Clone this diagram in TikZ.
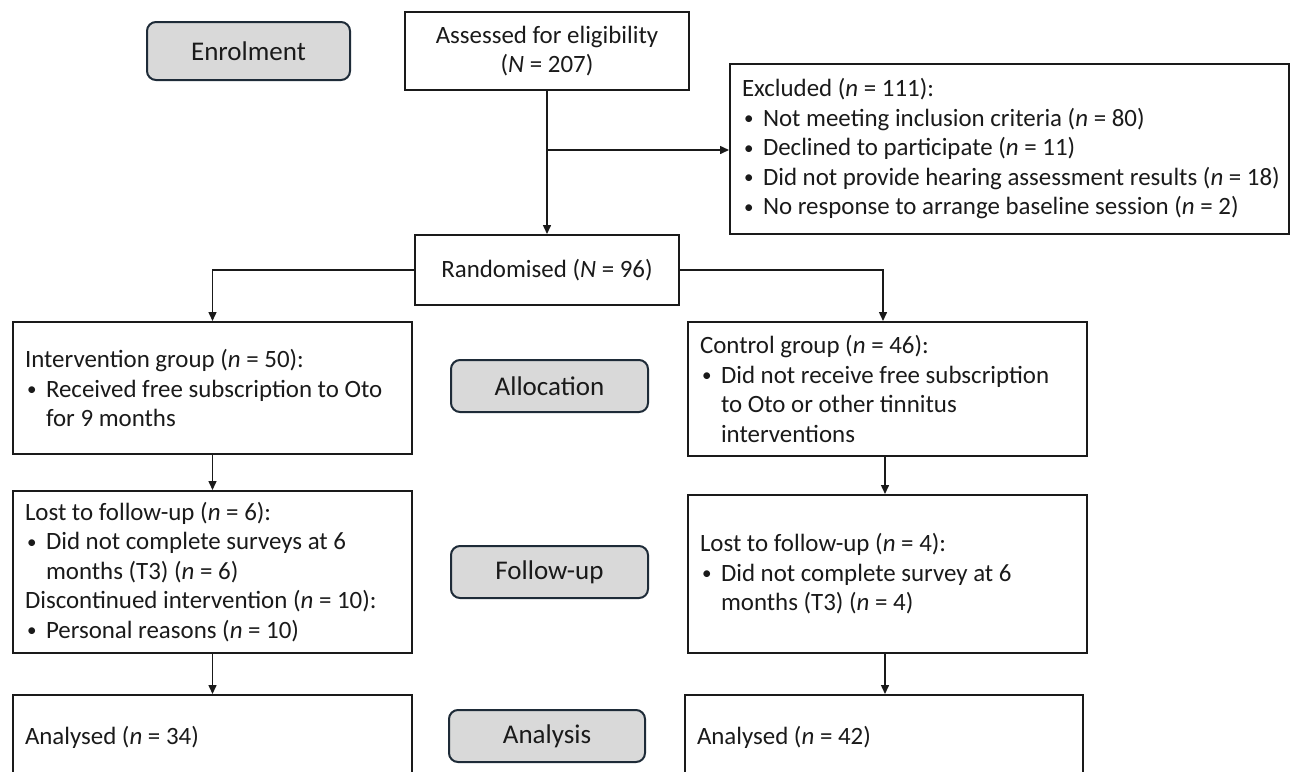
\documentclass[tikz,border=0pt]{standalone}
\usepackage{fontspec}
\setmainfont{Carlito}
\usetikzlibrary{arrows.meta}

\definecolor{stagefill}{HTML}{D9D9D9}
\definecolor{stageline}{HTML}{1E2B38}
\definecolor{ink}{HTML}{1A1A1A}

% natural interword spaces inside fixed-width nodes
\newcommand\plainspacing{\spaceskip=0pt \xspaceskip=0pt \raggedright}

% bulleted entry; continuation lines hang under the first word
\newcommand\bitem[1]{\par\hangindent=21pt\hangafter=1\noindent
  \makebox[21pt][l]{\hspace{2pt}\raisebox{1.5pt}{\fontsize{19}{19}\selectfont\textbullet}}%
  {\let\\\newline #1}\par}

\begin{document}
\begin{tikzpicture}[x=1pt,y=-1pt,
  every node/.style={font=\fontsize{24.9}{29.5}\selectfont, text=ink},
  box/.style={draw=ink, line width=2pt, inner xsep=12pt, inner ysep=0pt, fill=white},
  cbox/.style={box, align=center},
  lbox/.style={box, execute at begin node=\plainspacing},
  stage/.style={draw=stageline, fill=stagefill, line width=2pt, rounded corners=9pt,
                inner sep=0pt, font=\fontsize{27}{32}\selectfont},
  flow/.style={draw=ink, line width=1.5pt, -{Triangle[length=9pt,width=8pt]}}
]
\fill[white] (0,0) rectangle (1290,771);
\useasboundingbox (0,0) rectangle (1290,771);
\clip (0,0) rectangle (1290,771);

% stage labels
\node[stage, minimum width=203pt, minimum height=58pt] (enrol) at (248.5,51) {Enrolment};
\node[stage, minimum width=197pt, minimum height=52pt] (alloc) at (549.5,386) {Allocation};
\node[stage, minimum width=197pt, minimum height=52pt] (follow) at (549.5,572) {Follow-up};
\node[stage, minimum width=196pt, minimum height=52pt] (analysis) at (547,736) {Analysis};

% enrolment
\node[cbox, minimum width=284pt, minimum height=78pt] (assess) at (547,51)
  {Assessed for eligibility\\(\textit{N} = 207)};
\node[lbox, text width=534.5pt, minimum height=170pt] (excl) at (1009.25,149)
  {Excluded (\textit{n} = 111):
   \bitem{Not meeting inclusion criteria (\textit{n} = 80)}
   \bitem{Declined to participate (\textit{n} = 11)}
   \bitem{\mbox{Did not provide hearing assessment results (\textit{n} = 18)}}
   \bitem{No response to arrange baseline session (\textit{n} = 2)}};
\node[cbox, minimum width=264pt, minimum height=70pt] (rand) at (547,270)
  {Randomised (\textit{N} = 96)};

% allocation
\node[lbox, text width=375pt, minimum height=132pt] (interv) at (212.5,388)
  {Intervention group (\textit{n} = 50):
   \bitem{Received free subscription to Oto\\for 9 months}};
\node[lbox, text width=375pt, minimum height=134pt] (ctrl) at (887.5,389)
  {Control group (\textit{n} = 46):
   \bitem{Did not receive free subscription\\to Oto or other tinnitus\\interventions}};

% follow-up
\node[lbox, text width=375pt, minimum height=162pt] (lostL) at (212.5,572)
  {Lost to follow-up (\textit{n} = 6):
   \bitem{Did not complete surveys at 6\\months (T3) (\textit{n} = 6)}
   \noindent Discontinued intervention (\textit{n} = 10):
   \bitem{Personal reasons (\textit{n} = 10)}};
\node[lbox, text width=375pt, minimum height=158pt] (lostR) at (887.5,574)
  {Lost to follow-up (\textit{n} = 4):
   \bitem{Did not complete survey at 6\\months (T3) (\textit{n} = 4)}};

% analysis
\node[lbox, text width=375pt, minimum height=84pt] (anaL) at (212.5,737)
  {Analysed (\textit{n} = 34)};
\node[lbox, text width=374pt, minimum height=84pt] (anaR) at (884,737)
  {Analysed (\textit{n} = 42)};

% connectors
\coordinate (split) at (547,150);
\draw[flow] (assess.south) -- (rand.north);
\draw[flow] (split) -- (split -| excl.west);
\draw[flow] (rand.west) -| (interv.north);
\draw[flow] (rand.east) -| ([xshift=-4.5pt]ctrl.north);
\draw[flow] (interv.south) -- (lostL.north);
\draw[flow] ([xshift=-2.5pt]ctrl.south) -- ([xshift=-2.5pt]lostR.north);
\draw[flow] (lostL.south) -- (anaL.north);
\draw[flow] ([xshift=-2.5pt]lostR.south) -- ([xshift=-2.5pt]lostR.south |- anaR.north);
\end{tikzpicture}
\end{document}
